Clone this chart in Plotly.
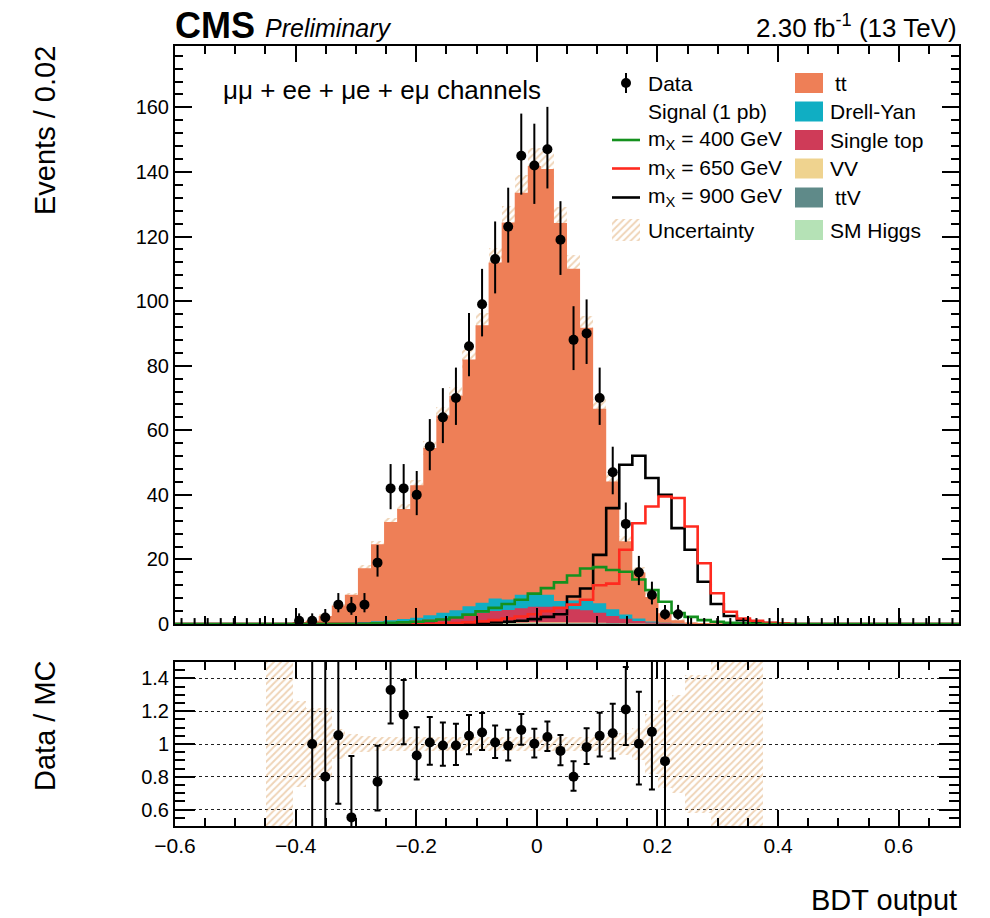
import math
import plotly.graph_objects as go

# ---------------------------------------------------------------- binning
NBINS = 60
X_LO, X_HI = -0.6, 0.7
BW = (X_HI - X_LO) / NBINS
edges = [X_LO + i * BW for i in range(NBINS + 1)]
centers = [X_LO + (i + 0.5) * BW for i in range(NBINS)]

# ---------------------------------------------------------------- observed events per bin
data_obs = [
    0, 0, 0, 0, 0, 0, 0, 0, 0, 1,
    1, 2, 6, 5, 6, 19, 42, 42, 40, 55,
    64, 70, 86, 99, 113, 123, 145, 142, 147, 119,
    88, 90, 70, 47, 31, 16, 9, 3, 3, 0,
    0, 0, 0, 0, 0, 0, 0, 0, 0, 0,
    0, 0, 0, 0, 0, 0, 0, 0, 0, 0,
]

# ---------------------------------------------------------------- background expectations
bkg_tt = [
    0, 0, 0, 0, 0, 0, 0, 0.1, 0.15, 0.6,
    1.0, 2.5, 5.5, 8.7, 16.7, 23.8, 30.4, 34.1, 41.1, 51.8,
    61.1, 66.4, 76.4, 85.9, 104.1, 116.8, 124.5, 132.2, 131.9, 117.1,
    102.7, 84.3, 60.3, 39.5, 22.7, 14.3, 7.6, 3.0, 1.05, 0.5,
    0.3, 0.2, 0.1, 0.08, 0.05, 0, 0, 0, 0, 0,
    0, 0, 0, 0, 0, 0, 0, 0, 0, 0,
]
bkg_dy = [
    0, 0, 0, 0, 0, 0, 0, 0, 0, 0,
    0, 0, 0.1, 0.2, 0.3, 0.45, 0.6, 0.7, 0.85, 1.3,
    1.75, 2.1, 2.65, 3.2, 3.85, 3.2, 4.2, 4.3, 3.7, 2.3,
    2.7, 3.2, 2.9, 2.1, 1.3, 0.75, 0.3, 0.12, 0.05, 0,
    0, 0, 0, 0, 0, 0, 0, 0, 0, 0,
    0, 0, 0, 0, 0, 0, 0, 0, 0, 0,
]
bkg_singletop = [
    0, 0, 0, 0, 0, 0, 0, 0, 0, 0,
    0, 0, 0.1, 0.15, 0.25, 0.35, 0.5, 0.7, 0.9, 1.2,
    1.5, 1.9, 2.5, 3.0, 3.6, 3.9, 4.4, 4.8, 4.8, 4.3,
    4.1, 3.8, 3.1, 2.2, 1.4, 0.8, 0.4, 0.2, 0.1, 0,
    0, 0, 0, 0, 0, 0, 0, 0, 0, 0,
    0, 0, 0, 0, 0, 0, 0, 0, 0, 0,
]
bkg_vv = [
    0, 0, 0, 0, 0, 0, 0, 0, 0, 0,
    0, 0, 0, 0, 0.05, 0.08, 0.1, 0.12, 0.15, 0.18,
    0.2, 0.22, 0.25, 0.28, 0.3, 0.3, 0.3, 0.3, 0.28, 0.25,
    0.22, 0.2, 0.15, 0.1, 0.07, 0.05, 0.03, 0, 0, 0,
    0, 0, 0, 0, 0, 0, 0, 0, 0, 0,
    0, 0, 0, 0, 0, 0, 0, 0, 0, 0,
]
bkg_ttv = [
    0, 0, 0, 0, 0, 0, 0, 0, 0, 0,
    0, 0, 0, 0, 0, 0, 0, 0, 0, 0,
    0.03, 0.05, 0.06, 0.08, 0.1, 0.12, 0.14, 0.16, 0.18, 0.2,
    0.22, 0.22, 0.2, 0.17, 0.12, 0.08, 0.05, 0.03, 0, 0,
    0, 0, 0, 0, 0, 0, 0, 0, 0, 0,
    0, 0, 0, 0, 0, 0, 0, 0, 0, 0,
]
bkg_smh = [
    0, 0, 0, 0, 0, 0, 0, 0, 0, 0,
    0, 0, 0, 0, 0, 0, 0, 0, 0, 0,
    0, 0, 0.02, 0.03, 0.04, 0.05, 0.05, 0.06, 0.06, 0.06,
    0.05, 0.05, 0.04, 0.03, 0.02, 0, 0, 0, 0, 0,
    0, 0, 0, 0, 0, 0, 0, 0, 0, 0,
    0, 0, 0, 0, 0, 0, 0, 0, 0, 0,
]
# relative uncertainty on the total background
unc_rel = [
    0, 0, 0, 0, 0, 0, 0, 0.8, 0.8, 0.26,
    0.22, 0.22, 0.09, 0.06, 0.05, 0.045, 0.04, 0.04, 0.04, 0.04,
    0.04, 0.04, 0.04, 0.04, 0.04, 0.04, 0.04, 0.04, 0.04, 0.04,
    0.04, 0.04, 0.045, 0.05, 0.07, 0.1, 0.18, 0.27, 0.3, 0.42,
    0.42, 0.8, 0.8, 0.8, 0.8, 0, 0, 0, 0, 0,
    0, 0, 0, 0, 0, 0, 0, 0, 0, 0,
]

# ---------------------------------------------------------------- signal templates (1 pb)
sig_400 = [
    0, 0, 0, 0, 0, 0, 0, 0, 0, 0,
    0, 0, 0, 0, 0, 0.2, 0.35, 0.5, 0.7, 1.0,
    1.4, 2.0, 2.9, 3.9, 5.0, 6.2, 7.5, 9.4, 11.1, 12.9,
    15.0, 17.2, 17.6, 16.7, 16.2, 13.8, 10.5, 6.9, 3.4, 2.2,
    1.2, 0.7, 0.4, 0.2, 0.1, 0, 0, 0, 0, 0,
    0, 0, 0, 0, 0, 0, 0, 0, 0, 0,
]
sig_650 = [
    0, 0, 0, 0, 0, 0, 0, 0, 0, 0,
    0, 0, 0, 0, 0, 0, 0, 0, 0, 0,
    0.2, 0.3, 0.5, 0.8, 1.2, 1.7, 2.3, 3.0, 4.0, 5.0,
    6.0, 7.5, 12.0, 12.5, 23.0, 31.2, 36.4, 39.5, 39.0, 30.2,
    18.8, 9.5, 3.8, 1.7, 1.0, 0.4, 0.2, 0, 0, 0,
    0, 0, 0, 0, 0, 0, 0, 0, 0, 0,
]
sig_900 = [
    0, 0, 0, 0, 0, 0, 0, 0, 0, 0,
    0, 0, 0, 0, 0, 0, 0, 0, 0, 0,
    0, 0, 0.2, 0.3, 0.5, 0.7, 1.0, 1.5, 2.2, 3.0,
    8.5, 11.0, 21.4, 35.9, 49.3, 52.1, 45.2, 40.0, 29.7, 23.0,
    13.1, 6.2, 2.5, 1.2, 0.6, 0.3, 0, 0, 0, 0,
    0, 0, 0, 0, 0, 0, 0, 0, 0, 0,
]

# ---------------------------------------------------------------- styling
FONT = "Liberation Sans, Arial, Helvetica, sans-serif"
C_TT = "#ee7f57"
C_DY = "#10aec3"
C_ST = "#cf3b58"
C_VV = "#efd38f"
C_TTV = "#5f8a89"
C_SMH = "#b5e2b6"
C_HATCH = "#dfa96f"
C_400, C_650, C_900 = "#14911e", "#ff2a1f", "#000000"

# canvas geometry (pixels): plot area spans x 175..959, y 46..826
PX_L, PX_R, PX_T, PX_B = 175, 959, 46, 826


def px(x):
    return (x - PX_L) / (PX_R - PX_L)


def py(y):
    return (PX_B - y) / (PX_B - PX_T)


# stacking order, bottom to top
stack = [
    ("SM Higgs", bkg_smh, C_SMH),
    ("ttV", bkg_ttv, C_TTV),
    ("VV", bkg_vv, C_VV),
    ("Single top", bkg_singletop, C_ST),
    ("Drell-Yan", bkg_dy, C_DY),
    ("tt", bkg_tt, C_TT),
]
cumul = []
running = [0.0] * NBINS
for name, vals, col in stack:
    running = [a + b for a, b in zip(running, vals)]
    cumul.append((name, list(running), col))
total = running


def garwood(n):
    """68.3% central Poisson interval, returned as (down, up) distances."""
    a = 0.5 * (1 - 0.682689)

    def cdf(k, mu):
        term = math.exp(-mu)
        s = term
        for i in range(1, k + 1):
            term *= mu / i
            s += term
        return s

    lo, hi = float(n), n + 20 + 10 * math.sqrt(n + 1)
    for _ in range(80):
        mid = 0.5 * (lo + hi)
        if cdf(n, mid) > a:
            lo = mid
        else:
            hi = mid
    up = 0.5 * (lo + hi)
    if n == 0:
        low = 0.0
    else:
        lo, hi = 0.0, float(n)
        for _ in range(80):
            mid = 0.5 * (lo + hi)
            if cdf(n - 1, mid) > 1 - a:
                lo = mid
            else:
                hi = mid
        low = 0.5 * (lo + hi)
    return n - low, up - n


def step_y(vals):
    return list(vals) + [vals[-1]]


HATCH = dict(shape="/", fgcolor=C_HATCH, bgcolor="rgba(0,0,0,0)", size=5, solidity=0.38)

fig = go.Figure()

# ---------------------------------------------------------------- stacked backgrounds (drawn top layer first)
for name, cum, col in reversed(cumul):
    fig.add_trace(go.Scatter(
        x=edges, y=step_y(cum), mode="lines", line=dict(width=0, shape="hv"),
        fill="tozeroy", fillcolor=col, hoverinfo="skip", showlegend=False,
        xaxis="x", yaxis="y"))

# background uncertainty, hatched
unc_abs = [t * r for t, r in zip(total, unc_rel)]
fig.add_trace(go.Bar(
    x=centers, y=[2 * u for u in unc_abs], base=[t - u for t, u in zip(total, unc_abs)],
    width=BW, marker=dict(color="rgba(0,0,0,0)", line=dict(width=0), pattern=HATCH),
    hoverinfo="skip", showlegend=False, xaxis="x", yaxis="y"))

# signal templates
for vals, col in ((sig_900, C_900), (sig_650, C_650), (sig_400, C_400)):
    fig.add_trace(go.Scatter(
        x=edges, y=step_y(vals), mode="lines", line=dict(color=col, width=2.6, shape="hv"),
        hoverinfo="skip", showlegend=False, xaxis="x", yaxis="y"))

# observed data
errs = [garwood(n) for n in data_obs]
xs_d = [c for c, n in zip(centers, data_obs) if n > 0]
ys_d = [n for n in data_obs if n > 0]
ed_d = [e[0] for e, n in zip(errs, data_obs) if n > 0]
eu_d = [e[1] for e, n in zip(errs, data_obs) if n > 0]
fig.add_trace(go.Scatter(
    x=xs_d, y=ys_d, mode="markers", marker=dict(color="black", size=10),
    error_y=dict(type="data", symmetric=False, array=eu_d, arrayminus=ed_d,
                 color="black", thickness=2, width=0),
    hoverinfo="skip", showlegend=False, xaxis="x", yaxis="y"))
xs_z = [c for c, n in zip(centers, data_obs) if n == 0]
eu_z = [e[1] for e, n in zip(errs, data_obs) if n == 0]
fig.add_trace(go.Scatter(
    x=xs_z, y=[0] * len(xs_z), mode="markers", marker=dict(color="rgba(0,0,0,0)", size=1),
    error_y=dict(type="data", symmetric=False, array=eu_z, arrayminus=[0] * len(xs_z),
                 color="black", thickness=2, width=0),
    hoverinfo="skip", showlegend=False, xaxis="x", yaxis="y"))

# ---------------------------------------------------------------- ratio panel
fig.add_trace(go.Bar(
    x=centers, y=[2 * r for r in unc_rel], base=[1 - r for r in unc_rel],
    width=BW, marker=dict(color="rgba(0,0,0,0)", line=dict(width=0), pattern=HATCH),
    hoverinfo="skip", showlegend=False, xaxis="x2", yaxis="y2"))

rx, ry, rlo, rhi = [], [], [], []
for c, n, t, e in zip(centers, data_obs, total, errs):
    if n > 0 and t > 0:
        r = n / t
        if 0.5 <= r <= 1.5:
            rx.append(c)
            ry.append(r)
            rlo.append(e[0] / t)
            rhi.append(e[1] / t)
fig.add_trace(go.Scatter(
    x=rx, y=ry, mode="markers", marker=dict(color="black", size=10),
    error_y=dict(type="data", symmetric=False, array=rhi, arrayminus=rlo,
                 color="black", thickness=2, width=3),
    hoverinfo="skip", showlegend=False, xaxis="x2", yaxis="y2"))

# ---------------------------------------------------------------- legend (pixel-space overlay axes)
LX_L, LX_R = 626, 809          # symbol centres of the two columns
ROWS = [83, 111.5, 140, 168.5, 197.5, 230]

fig.add_trace(go.Scatter(
    x=[LX_L], y=[ROWS[0]], mode="markers", marker=dict(color="black", size=10),
    error_y=dict(type="constant", value=10, color="black", thickness=2, width=0),
    hoverinfo="skip", showlegend=False, xaxis="x3", yaxis="y3"))
for row, col in ((ROWS[2], C_400), (ROWS[3], C_650), (ROWS[4], C_900)):
    fig.add_trace(go.Scatter(
        x=[612, 640], y=[row, row], mode="lines", line=dict(color=col, width=2.6),
        hoverinfo="skip", showlegend=False, xaxis="x3", yaxis="y3"))
fig.add_trace(go.Bar(
    x=[626], y=[22], base=[ROWS[5] - 11], width=[28],
    marker=dict(color="rgba(0,0,0,0)", line=dict(width=0), pattern=HATCH),
    hoverinfo="skip", showlegend=False, xaxis="x3", yaxis="y3"))

shapes = []
for row, (name, vals, col) in zip(ROWS, reversed(stack)):
    shapes.append(dict(type="rect", xref="x3", yref="y3", x0=LX_R - 14, x1=LX_R + 14,
                       y0=row - 10, y1=row + 10, fillcolor=col, line=dict(width=0), layer="above"))

LEG_FS = 21
annotations = []
left_texts = ["Data", "Signal (1 pb)", "m<sub>X</sub> = 400 GeV", "m<sub>X</sub> = 650 GeV",
              "m<sub>X</sub> = 900 GeV", "Uncertainty"]
for row, txt in zip(ROWS, left_texts):
    annotations.append(dict(xref="paper", yref="paper", x=px(646), y=py(row), text=txt,
                            showarrow=False, xanchor="left", yanchor="middle",
                            font=dict(size=LEG_FS, color="black")))
right_texts = [("tt", 833), ("Drell-Yan", 828), ("Single top", 828), ("VV", 828),
               ("ttV", 833), ("SM Higgs", 828)]
for row, (txt, xp) in zip(ROWS, right_texts):
    annotations.append(dict(xref="paper", yref="paper", x=px(xp), y=py(row), text=txt,
                            showarrow=False, xanchor="left", yanchor="middle",
                            font=dict(size=LEG_FS, color="black")))


def label(x, y, text, size, xanchor="left", angle=0):
    return dict(xref="paper", yref="paper", x=px(x), y=py(y), text=text, showarrow=False,
                xanchor=xanchor, yanchor="middle", textangle=angle,
                font=dict(size=size, color="black"))


# ---------------------------------------------------------------- labels
annotations += [
    label(221, 90, "μμ + ee + μe + eμ channels", 26),
    label(173, 25, "<b>CMS</b>", 36),
    label(263, 28, "<i>Preliminary</i>", 25),
    label(959, 26, "2.30 fb<sup>-1</sup> (13 TeV)", 26, xanchor="right"),
    label(959, 900, "BDT output", 29, xanchor="right"),
    label(45, 131, "Events / 0.02", 29, xanchor="center", angle=-90),
    label(45, 726, "Data / MC", 29, xanchor="center", angle=-90),
]

# ---------------------------------------------------------------- axes
frame = dict(showline=True, linecolor="black", linewidth=2, mirror="allticks",
             ticks="inside", tickcolor="black", tickwidth=1.5, zeroline=False)
x_common = dict(range=[X_LO, X_HI], tick0=0, dtick=0.2, showgrid=False,
                minor=dict(ticks="inside", ticklen=8, tickwidth=1.5, tickcolor="black",
                           tick0=0, dtick=0.05, showgrid=False), **frame)

MAIN_BOTTOM = py(624)
RATIO_TOP = py(662)

fig.update_layout(
    width=990, height=918,
    margin=dict(l=PX_L, r=990 - PX_R, t=PX_T, b=918 - PX_B),
    paper_bgcolor="white", plot_bgcolor="rgba(0,0,0,0)",
    font=dict(family=FONT, color="black"),
    barmode="overlay", bargap=0, showlegend=False,
    xaxis=dict(domain=[0, 1], anchor="y", showticklabels=False, ticklen=16, **x_common),
    yaxis=dict(domain=[MAIN_BOTTOM, 1], anchor="x", range=[0, 179], tick0=0, dtick=20,
               ticklen=17, showgrid=False, tickfont=dict(size=20),
               minor=dict(ticks="inside", ticklen=8, tickwidth=1.5, tickcolor="black",
                          dtick=4, showgrid=False), **frame),
    xaxis2=dict(domain=[0, 1], anchor="y2", matches="x", showticklabels=True, ticklen=16,
                tickfont=dict(size=21), **x_common),
    yaxis2=dict(domain=[0, RATIO_TOP], anchor="x2", range=[0.5, 1.5],
                tickvals=[0.6, 0.8, 1.0, 1.2, 1.4], ticklen=20, tickfont=dict(size=20),
                showgrid=True, gridcolor="#222222", gridwidth=1.4, griddash="dot",
                minor=dict(ticks="inside", ticklen=10, tickwidth=1.5, tickcolor="black",
                           dtick=0.05, showgrid=False), **frame),
    xaxis3=dict(domain=[0, 1], anchor="y3", range=[PX_L, PX_R], visible=False, fixedrange=True),
    yaxis3=dict(domain=[0, 1], anchor="x3", range=[PX_B, PX_T], visible=False, fixedrange=True),
    shapes=shapes,
    annotations=annotations,
)

fig.write_html("out.html")
